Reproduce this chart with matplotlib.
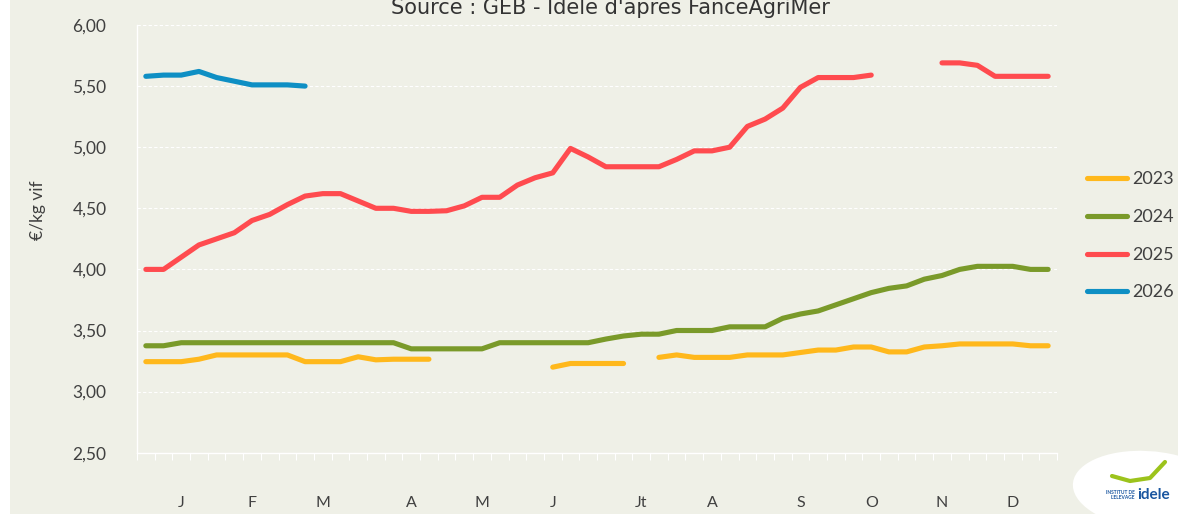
import numpy as np
import matplotlib
matplotlib.use("Agg")
import matplotlib.pyplot as plt
from matplotlib.patches import Rectangle, Ellipse
from matplotlib.lines import Line2D

plt.rcParams['font.family'] = ['Lato', 'DejaVu Sans']

# DATA (weekly prices, €/kg vif)
nan = np.nan
weeks = np.arange(52)
month_pos = [2, 6, 10, 15, 19, 23, 28, 32, 37, 41, 45, 49]
month_labels = ['J', 'F', 'M', 'A', 'M', 'J', 'Jt', 'A', 'S', 'O', 'N', 'D']

y2023 = [3.245, 3.245, 3.245, 3.265, 3.30, 3.30, 3.30, 3.30, 3.30, 3.245,
         3.245, 3.245, 3.285, 3.26, 3.265, 3.265, 3.265, nan, nan, nan,
         nan, nan, nan, 3.20, 3.23, 3.23, 3.23, 3.23, nan, 3.28,
         3.30, 3.28, 3.28, 3.28, 3.30, 3.30, 3.30, 3.32, 3.34, 3.34,
         3.365, 3.365, 3.325, 3.325, 3.365, 3.375, 3.39, 3.39, 3.39, 3.39,
         3.375, 3.375]
y2024 = [3.375, 3.375, 3.40, 3.40, 3.40, 3.40, 3.40, 3.40, 3.40, 3.40,
         3.40, 3.40, 3.40, 3.40, 3.40, 3.35, 3.35, 3.35, 3.35, 3.35,
         3.40, 3.40, 3.40, 3.40, 3.40, 3.40, 3.43, 3.455, 3.47, 3.47,
         3.50, 3.50, 3.50, 3.53, 3.53, 3.53, 3.60, 3.635, 3.66, 3.71,
         3.76, 3.81, 3.845, 3.865, 3.92, 3.95, 4.00, 4.025, 4.025, 4.025,
         4.00, 4.00]
y2025 = [4.00, 4.00, 4.10, 4.20, 4.25, 4.30, 4.40, 4.45, 4.53, 4.60,
         4.62, 4.62, 4.56, 4.50, 4.50, 4.475, 4.475, 4.48, 4.52, 4.59,
         4.59, 4.69, 4.75, 4.79, 4.99, 4.92, 4.84, 4.84, 4.84, 4.84,
         4.90, 4.97, 4.97, 5.00, 5.17, 5.23, 5.32, 5.49, 5.57, 5.57,
         5.57, 5.59, nan, nan, nan, 5.69, 5.69, 5.67, 5.58, 5.58,
         5.58, 5.58]
y2026 = [5.58, 5.59, 5.59, 5.62, 5.57, 5.54, 5.51, 5.51, 5.51, 5.50]

series = [('2023', y2023, '#FFB81C'),
          ('2024', y2024, '#7A9A2A'),
          ('2025', y2025, '#FF4B4F'),
          ('2026', y2026, '#0E8FC4')]

bg = '#EFF0E7'
txt = '#404040'

fig = plt.figure(figsize=(11.78, 5.14), dpi=100, facecolor=bg)
fig.patches.append(Rectangle((0, 0), 10 / 1178, 1, transform=fig.transFigure,
                             facecolor='white', edgecolor='none', zorder=0))
ax = fig.add_axes([137 / 1178, 1 - 452.7 / 514, 920 / 1178, (452.7 - 25) / 514])
ax.set_facecolor(bg)

for name, vals, col in series:
    ax.plot(weeks[:len(vals)], vals, color=col, lw=3.7, label=name,
            solid_capstyle='round', solid_joinstyle='round')

ax.set_xlim(-0.5, 51.5)
ax.set_ylim(2.5, 6.0)
ax.set_yticks(np.arange(2.5, 6.01, 0.5))
ax.set_yticklabels([('%.2f' % v).replace('.', ',') for v in np.arange(2.5, 6.01, 0.5)],
                   fontsize=12.5, color=txt)
ax.tick_params(axis='y', length=0, pad=22)
ax.set_xticks(month_pos)
ax.set_xticklabels(month_labels, fontsize=11.5, color=txt)
ax.set_xticks(np.arange(-0.5, 52, 1), minor=True)
ax.tick_params(axis='x', which='major', length=0, pad=31)
ax.tick_params(axis='x', which='minor', length=5, color='white', width=0.8)
ax.grid(axis='y', color='white', ls=(0, (3, 2)), lw=0.8)
for s in ['top', 'right']:
    ax.spines[s].set_visible(False)
for s in ['left', 'bottom']:
    ax.spines[s].set_color('white')
    ax.spines[s].set_linewidth(1)

fig.text(38 / 1178, 1 - 210 / 514, '€/kg vif', rotation=90, ha='center',
         va='center', fontsize=12.5, color=txt)
fig.text(610 / 1178, 1 - 8 / 514, "Source : GEB - Idele d'apres FanceAgriMer",
         ha='center', va='center', fontsize=15, color='#333333',
         family=['Liberation Sans Narrow', 'DejaVu Sans'])

ax.legend(loc='center left', bbox_to_anchor=(1078 / 1178, 1 - 236 / 514),
          bbox_transform=fig.transFigure, frameon=False, fontsize=13,
          handlelength=2.2, handletextpad=0.3, labelspacing=1.2,
          borderpad=0, labelcolor=txt)

# logo
fig.patches.append(Ellipse((1150 / 1178, 1 - 490 / 514), 150 / 1178, 80 / 514,
                           angle=20, transform=fig.transFigure,
                           facecolor='white', edgecolor='none'))
fig.lines.append(Line2D([1112 / 1178, 1130 / 1178, 1150 / 1178, 1165 / 1178],
                        [1 - 476 / 514, 1 - 481 / 514, 1 - 478 / 514, 1 - 462 / 514],
                        transform=fig.transFigure, color='#9CC31C', lw=3,
                        solid_capstyle='round'))
fig.text(1135 / 1178, 1 - 495 / 514, "INSTITUT DE\nL'ELEVAGE", color='#1A56A0',
         fontsize=3.5, ha='right', va='center', fontweight='bold',
         linespacing=1.1)
fig.text(1137 / 1178, 1 - 495 / 514, 'idele', color='#1A56A0', fontsize=11,
         ha='left', va='center', fontweight='bold')

fig.savefig('out.png', dpi=100, facecolor=bg)
